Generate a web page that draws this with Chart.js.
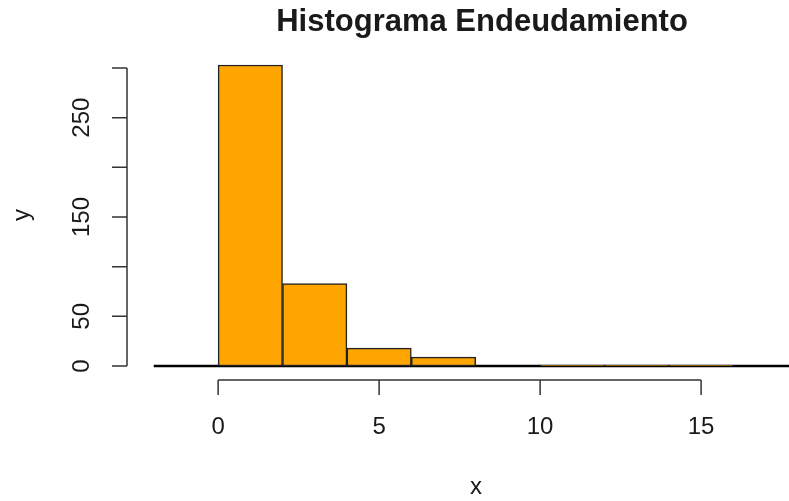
<!DOCTYPE html>
<html>
<head>
<meta charset="utf-8">
<script src="https://cdn.jsdelivr.net/npm/chart.js@4"></script>
<style>
  html,body{margin:0;padding:0;background:#fff;}
  #wrap{width:789px;height:501px;position:relative;}
</style>
</head>
<body>
<div id="wrap"><canvas id="hist"></canvas></div>
<script>
// histogram bins (break points every 2) and counts
const binMids   = [1, 3, 5, 7, 9, 11, 13, 15];
const counts    = [303, 83, 18, 9, 0, 1, 1, 1];
const baseX     = [-2, 20];
const baseY     = [0, 0];
const xTicks    = [0, 5, 10, 15];
const yTicks    = [0, 50, 100, 150, 200, 250, 300];
const yTickText = ['0', '50', '', '150', '', '250', ''];
const mainTitle = 'Histograma Endeudamiento';
const xTitle = 'x', yTitle = 'y';

const FONT = '"Liberation Sans", Arial, Helvetica, sans-serif';
const INK = '#1a1a1a';

/* R-style axes drawn with the chart's own scales */
const rAxes = {
  id: 'rAxes',
  afterDraw(chart){
    const ctx = chart.ctx, xs = chart.scales.x, ys = chart.scales.y, a = chart.chartArea;
    ctx.save();
    ctx.strokeStyle = '#333';
    ctx.lineWidth = 1.5;
    ctx.fillStyle = INK;
    // y axis
    const ax = a.left;
    ctx.beginPath();
    ctx.moveTo(ax, ys.getPixelForValue(yTicks[0]));
    ctx.lineTo(ax, ys.getPixelForValue(yTicks[yTicks.length-1]));
    yTicks.forEach(v=>{const p=ys.getPixelForValue(v);ctx.moveTo(ax,p);ctx.lineTo(ax-15,p);});
    ctx.stroke();
    ctx.font = '24px '+FONT;
    ctx.textAlign = 'center';ctx.textBaseline = 'middle';
    yTicks.forEach((v,i)=>{
      if(!yTickText[i])return;
      ctx.save();ctx.translate(ax-45, ys.getPixelForValue(v));ctx.rotate(-Math.PI/2);
      ctx.fillText(yTickText[i],0,0);ctx.restore();
    });
    // x axis
    const ay = a.bottom;
    ctx.beginPath();
    ctx.moveTo(xs.getPixelForValue(xTicks[0]), ay);
    ctx.lineTo(xs.getPixelForValue(xTicks[xTicks.length-1]), ay);
    xTicks.forEach(v=>{const p=xs.getPixelForValue(v);ctx.moveTo(p,ay);ctx.lineTo(p,ay+15);});
    ctx.stroke();
    xTicks.forEach(v=>ctx.fillText(String(v), xs.getPixelForValue(v), ay+47));
    // axis titles
    ctx.fillText(xTitle, xs.getPixelForValue(8.01), ay+107);
    ctx.save();ctx.translate(22,(a.top+a.bottom)/2);ctx.rotate(-Math.PI/2);
    ctx.fillText(yTitle,0,0);ctx.restore();
    // main title
    ctx.font = 'bold 31px '+FONT;
    ctx.fillText(mainTitle, xs.getPixelForValue(8.01)+6, 22);
    ctx.restore();
  }
};

new Chart(document.getElementById('hist'),{
  type:'bar',
  data:{
    datasets:[
      {label:'counts',data:binMids.map((x,i)=>({x:x,y:counts[i]})),backgroundColor:'#FFA500',
       borderColor:'#222',borderWidth:1.5,borderSkipped:false,barPercentage:1,categoryPercentage:1,order:0},
      {type:'line',data:baseX.map((x,i)=>({x:x,y:baseY[i]})),borderColor:'#000',borderWidth:2.4,pointRadius:0,order:1}
    ]
  },
  options:{
    responsive:true,maintainAspectRatio:false,animation:false,
    layout:{padding:{left:127,top:50,right:0,bottom:121}},
    plugins:{legend:{display:false},title:{display:false},tooltip:{enabled:false}},
    scales:{
      x:{type:'linear',min:-2.83,max:17.73,display:false,offset:false},
      y:{type:'linear',min:-14.09,max:318.1,display:false}
    }
  },
  plugins:[rAxes]
});
</script>
</body>
</html>
